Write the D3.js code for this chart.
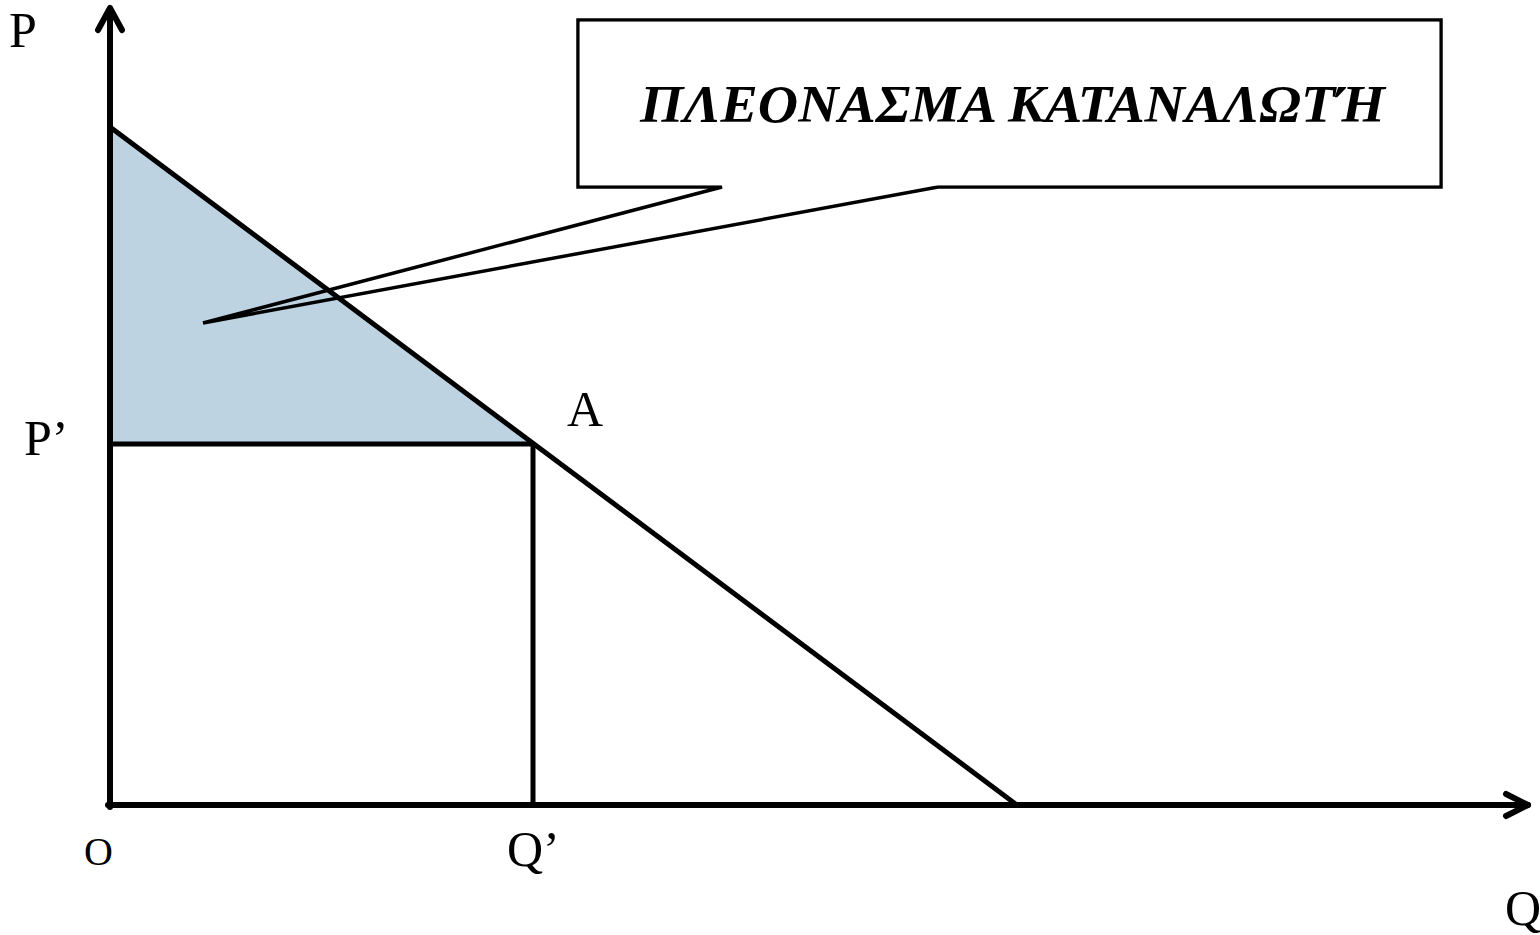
<!DOCTYPE html>
<html>
<head>
<meta charset="utf-8">
<script src="https://cdn.jsdelivr.net/npm/d3@7"></script>
<style>
  body { margin: 0; background: #fff; }
  text { font-family: "Liberation Serif", "Times New Roman", serif; fill: #000; }
</style>
</head>
<body>
<div id="figure"></div>
<script>
// demand curve end points [Q, P]
var demand = [[0, 6.78], [9.07, 0]];
// equilibrium point A [Q', P']
var equilibrium = [4.23, 3.61];
// tip of the callout pointer [Q, P]
var calloutTip = [0.93, 4.82];
var axisMax = [14.2, 7.93];
var calloutText = "ΠΛΕΟΝΑΣΜΑ ΚΑΤΑΝΑΛΩΤΉ";
var labels = ["P", "P’", "A", "O", "Q’", "Q"];

const width = 1540, height = 935;
const x0 = 110, y0 = 805;

const svg = d3.select("#figure")
  .append("svg")
  .attr("width", width)
  .attr("height", height);

const x = d3.scaleLinear().domain([0, axisMax[0]]).range([x0, 1530]);
const y = d3.scaleLinear().domain([0, axisMax[1]]).range([y0, 12]);

// P on the demand line at a given Q
function demandP(q) {
  return demand[0][1] + (demand[1][1] - demand[0][1]) * (q - demand[0][0]) / (demand[1][0] - demand[0][0]);
}

// consumer surplus triangle
svg.append("path")
  .attr("d", d3.line()([
    [x(0), y(demandP(0))],
    [x(0), y(equilibrium[1])],
    [x(equilibrium[0]), y(equilibrium[1])]
  ]) + "Z")
  .attr("fill", "#bed3e2");

// demand line
svg.append("line")
  .attr("x1", x(demand[0][0])).attr("y1", y(demand[0][1]))
  .attr("x2", x(demand[1][0])).attr("y2", y(demand[1][1]))
  .attr("stroke", "#000").attr("stroke-width", 5);

// P' horizontal and Q' vertical
svg.append("line")
  .attr("x1", x(0)).attr("y1", y(equilibrium[1]))
  .attr("x2", x(equilibrium[0])).attr("y2", y(equilibrium[1]))
  .attr("stroke", "#000").attr("stroke-width", 5);
svg.append("line")
  .attr("x1", x(equilibrium[0])).attr("y1", y(equilibrium[1]))
  .attr("x2", x(equilibrium[0])).attr("y2", y(0))
  .attr("stroke", "#000").attr("stroke-width", 5);

// axes with open arrow heads
const axes = svg.append("g")
  .attr("stroke", "#000").attr("stroke-width", 6)
  .attr("fill", "none").attr("stroke-linecap", "round").attr("stroke-linejoin", "round");
axes.append("path").attr("d", d3.line()([[x(0), y(0) + 2], [x(0), y(axisMax[1]) - 2]]));
axes.append("path").attr("d", d3.line()([[x(0) - 2, y(0)], [x(axisMax[0]) - 2, y(0)]]));
axes.append("path").attr("d", d3.line()([[x(0) - 12, y(axisMax[1]) + 18], [x(0), y(axisMax[1]) - 4], [x(0) + 12, y(axisMax[1]) + 18]]));
axes.append("path").attr("d", d3.line()([[x(axisMax[0]) - 24, y(0) - 11], [x(axisMax[0]) - 2, y(0)], [x(axisMax[0]) - 24, y(0) + 11]]));

// callout box
const bx = 578, by = 20, bw = 863, bh = 167;
const tip = [x(calloutTip[0]), y(calloutTip[1])];
svg.append("path")
  .attr("d", d3.line()([
    [722, by + bh], tip, [938, by + bh], [bx + bw, by + bh], [bx + bw, by],
    [bx, by], [bx, by + bh]
  ]) + "Z")
  .attr("fill", "none").attr("stroke", "#000").attr("stroke-width", 3.5)
  .attr("stroke-linejoin", "miter");
// white box body so the pointer base is not drawn inside
svg.append("rect")
  .attr("x", bx + 1.75).attr("y", by + 1.75)
  .attr("width", bw - 3.5).attr("height", bh - 3.5)
  .attr("fill", "#fff");
svg.append("text")
  .attr("x", 640).attr("y", 122)
  .attr("font-size", 52).attr("font-weight", "bold").attr("font-style", "italic")
  .attr("textLength", 745).attr("lengthAdjust", "spacingAndGlyphs")
  .text(calloutText);

// labels
const lab = svg.append("g").attr("font-size", 50);
lab.append("text").attr("x", 9).attr("y", 47).text(labels[0]);
lab.append("text").attr("x", 24).attr("y", y(equilibrium[1]) + 11).text(labels[1]);
lab.append("text").attr("x", x(equilibrium[0]) + 34).attr("y", y(equilibrium[1]) - 18).text(labels[2]);
lab.append("text").attr("x", 84).attr("y", 865).attr("font-size", 40).text(labels[3]);
lab.append("text").attr("x", x(equilibrium[0]) - 26).attr("y", 866).text(labels[4]);
lab.append("text").attr("x", 1505).attr("y", 925).text(labels[5]);
</script>
</body>
</html>
